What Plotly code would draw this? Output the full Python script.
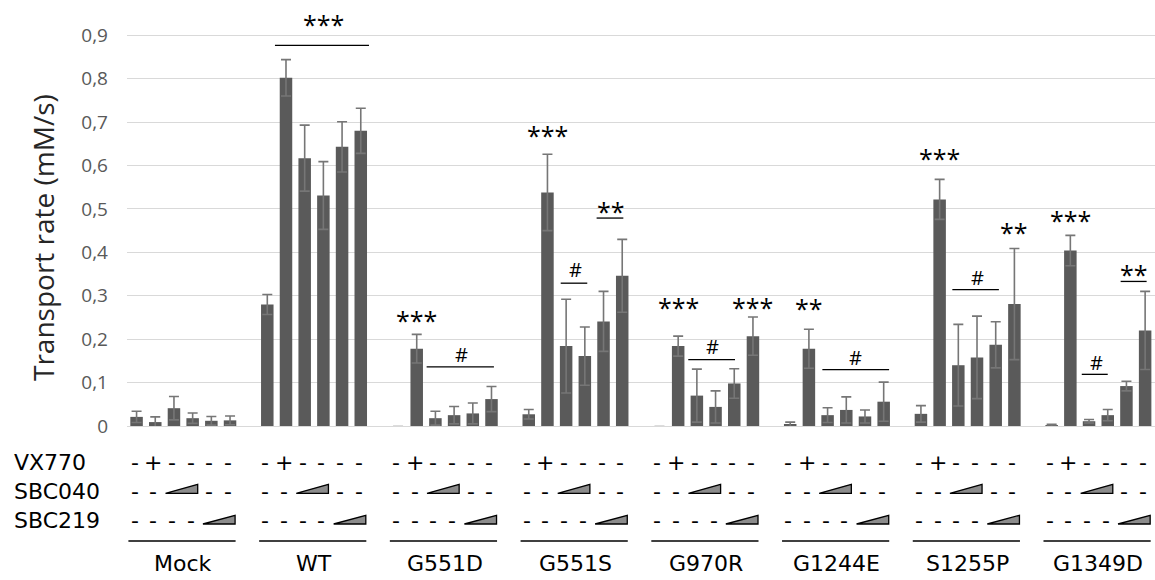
import plotly.graph_objects as go

# ---------------- data ----------------
groups = ["Mock", "WT", "G551D", "G551S", "G970R", "G1244E", "S1255P", "G1349D"]
conditions = ["Vehicle", "VX770", "SBC040 low", "SBC040 high", "SBC219 low", "SBC219 high"]

vehicle      = [0.021, 0.280, -0.002, 0.027, -0.002, 0.004, 0.028, 0.002]
vehicle_err  = [0.013, 0.023, 0.001, 0.011, 0.001, 0.005, 0.019, 0.002]
vx770        = [0.009, 0.802, 0.178, 0.538, 0.184, 0.178, 0.522, 0.404]
vx770_err    = [0.012, 0.042, 0.033, 0.088, 0.023, 0.045, 0.046, 0.035]
sbc040_lo    = [0.041, 0.617, 0.018, 0.184, 0.070, 0.025, 0.140, 0.011]
sbc040_lo_err= [0.027, 0.076, 0.016, 0.108, 0.061, 0.017, 0.094, 0.004]
sbc040_hi    = [0.018, 0.531, 0.025, 0.161, 0.044, 0.037, 0.158, 0.025]
sbc040_hi_err= [0.012, 0.078, 0.020, 0.067, 0.037, 0.030, 0.095, 0.013]
sbc219_lo    = [0.012, 0.643, 0.029, 0.241, 0.098, 0.022, 0.187, 0.092]
sbc219_lo_err= [0.010, 0.058, 0.024, 0.069, 0.034, 0.015, 0.053, 0.011]
sbc219_hi    = [0.013, 0.680, 0.062, 0.346, 0.207, 0.056, 0.281, 0.220]
sbc219_hi_err= [0.010, 0.052, 0.029, 0.084, 0.044, 0.045, 0.128, 0.090]

series = [vehicle, vx770, sbc040_lo, sbc040_hi, sbc219_lo, sbc219_hi]
errors = [vehicle_err, vx770_err, sbc040_lo_err, sbc040_hi_err, sbc219_lo_err, sbc219_hi_err]

y_ticks = [0, 0.1, 0.2, 0.3, 0.4, 0.5, 0.6, 0.7, 0.8, 0.9]
y_tick_text = ["0", "0,1", "0,2", "0,3", "0,4", "0,5", "0,6", "0,7", "0,8", "0,9"]

# treatment table (per bar within a group)
row_labels = ["VX770", "SBC040", "SBC219"]
row_vx770  = ["-", "+", "-", "-", "-", "-"]
row_sbc040 = ["-", "-", "ramp", "ramp", "-", "-"]
row_sbc219 = ["-", "-", "-", "-", "ramp", "ramp"]

# significance marks: (group, label, text slot, text y, line slots or None, line y)
sig_marks = [
    (1, "***", 3.0, 0.930, (0.41, 5.44), 0.877),
    (2, "***", 1.0, 0.248, None, None),
    (2, "#",   3.4, 0.165, (1.53, 5.13), 0.136),
    (3, "***", 1.0, 0.674, None, None),
    (3, "#",   2.5, 0.360, (1.71, 3.13), 0.329),
    (3, "**",  4.4, 0.501, (3.63, 5.06), 0.479),
    (4, "***", 1.0, 0.278, None, None),
    (4, "#",   2.85, 0.182, (1.54, 4.04), 0.153),
    (4, "***", 5.0, 0.278, None, None),
    (5, "**",  1.0, 0.276, None, None),
    (5, "#",   3.5, 0.158, (1.72, 5.29), 0.130),
    (6, "***", 1.0, 0.622, None, None),
    (6, "#",   3.0, 0.343, (1.68, 4.17), 0.314),
    (6, "**",  5.0, 0.451, None, None),
    (7, "***", 1.0, 0.478, None, None),
    (7, "#",   2.4, 0.147, (1.61, 3.00), 0.119),
    (7, "**",  4.4, 0.355, (3.69, 5.08), 0.333),
]

# ---------------- layout constants ----------------
FONT = "Open Sans"
TABLE_FONT = "DejaVu Sans"
BAR_COLOR = "#5a5a5a"
ERR_COLOR = "#767676"
BARGAP = 0.142
BARGROUPGAP = 0.331
NSLOT = len(conditions)
SLOT = (1 - BARGAP) / NSLOT
X_RANGE = [-0.4307, 7.433]
Y_RANGE = [0, 0.9813]

W, H = 1155, 580
M_L, M_R, M_T, M_B = 127, 0, 0, 154
PLOT_H = H - M_T - M_B
PLOT_W = W - M_L - M_R


def slot_x(g, s):
    return g + (s - (NSLOT - 1) / 2) * SLOT


def py(px):
    """pixel row (from top of figure) -> paper y"""
    return (PLOT_H - px) / PLOT_H


xpos = list(range(len(groups)))

fig = go.Figure()
for name, vals, errs in zip(conditions, series, errors):
    fig.add_trace(go.Bar(
        x=xpos, y=vals, name=name,
        marker=dict(color=BAR_COLOR, line=dict(width=0)),
        error_y=dict(type="data", array=errs, visible=True,
                     color=ERR_COLOR, thickness=1.6, width=5),
    ))

annotations = []
shapes = []

# y axis title
annotations.append(dict(
    xref="paper", yref="paper", x=(43 - M_L) / PLOT_W, y=py(238),
    text="Transport rate (mM/s)", textangle=-90, showarrow=False,
    font=dict(family=FONT, size=28, color="#262626"),
    xanchor="center", yanchor="middle"))

# significance marks
for g, label, ts, ty, line, ly in sig_marks:
    star = "*" in label
    annotations.append(dict(
        xref="x", yref="y", x=slot_x(g, ts), y=ty, text=label, showarrow=False,
        font=dict(family=FONT, size=25 if star else 20, color="#000000"),
        xanchor="center", yanchor="middle",
        yshift=-2 if star else 0))
    if line is not None:
        shapes.append(dict(type="line", xref="x", yref="y",
                           x0=slot_x(g, line[0]), x1=slot_x(g, line[1]),
                           y0=ly, y1=ly, line=dict(color="#000000", width=1.3)))

# treatment table
row_y = [py(462.5), py(491.0), py(520.5)]
tri_bottom = [None, py(493.3), py(524.0)]
tri_top = [None, py(484.3), py(515.3)]
rows = [row_vx770, row_sbc040, row_sbc219]

for r, (lab, cells) in enumerate(zip(row_labels, rows)):
    annotations.append(dict(
        xref="paper", yref="paper", x=(12 - M_L) / PLOT_W, y=row_y[r],
        text=lab, showarrow=False, xanchor="left", yanchor="middle",
        font=dict(family=TABLE_FONT, size=22, color="#000000")))
    for g in xpos:
        ramp_slots = [s for s, c in enumerate(cells) if c == "ramp"]
        for s, c in enumerate(cells):
            if c in ("-", "+"):
                annotations.append(dict(
                    xref="x", yref="paper", x=slot_x(g, s), y=row_y[r],
                    text=c, showarrow=False, xanchor="center", yanchor="middle",
                    xshift=-2,
                    font=dict(family=TABLE_FONT, size=22, color="#000000")))
        if ramp_slots:
            x0 = slot_x(g, ramp_slots[0] - 0.45)
            x1 = slot_x(g, ramp_slots[-1] + 0.27)
            yb, yt = tri_bottom[r], tri_top[r]
            shapes.append(dict(
                type="path", xref="x", yref="paper",
                path=f"M {x0},{yb} L {x1},{yb} L {x1},{yt} Z",
                fillcolor="#8c8c8c", line=dict(color="#000000", width=1.3)))

# group underline + names
for g, name in zip(xpos, groups):
    shapes.append(dict(type="line", xref="x", yref="paper",
                       x0=g - 0.42, x1=g + 0.40, y0=py(541), y1=py(541),
                       line=dict(color="#000000", width=1.3)))
    annotations.append(dict(
        xref="x", yref="paper", x=g, y=py(563), text=name, showarrow=False,
        xanchor="center", yanchor="middle",
        font=dict(family=TABLE_FONT, size=22, color="#000000")))

fig.update_layout(
    width=W, height=H,
    margin=dict(l=M_L, r=M_R, t=M_T, b=M_B, autoexpand=False),
    paper_bgcolor="white", plot_bgcolor="white",
    barmode="group", bargap=BARGAP, bargroupgap=BARGROUPGAP,
    showlegend=False,
    font=dict(family=FONT),
    xaxis=dict(range=X_RANGE, showticklabels=False, showgrid=False,
               zeroline=False, showline=False, ticks=""),
    yaxis=dict(range=Y_RANGE, tickvals=y_ticks, ticktext=y_tick_text,
               showgrid=True, gridcolor="#d9d9d9", gridwidth=1.2,
               zeroline=True, zerolinecolor="#d9d9d9", zerolinewidth=1.2,
               showline=False, ticks="", ticklabelstandoff=18,
               tickfont=dict(family=FONT, size=19, color="#595959")),
    annotations=annotations,
    shapes=shapes,
)

fig.write_html("out.html",
               config={"displayModeBar": False},
               post_script="document.body.style.margin='0';document.body.style.overflow='hidden';")
